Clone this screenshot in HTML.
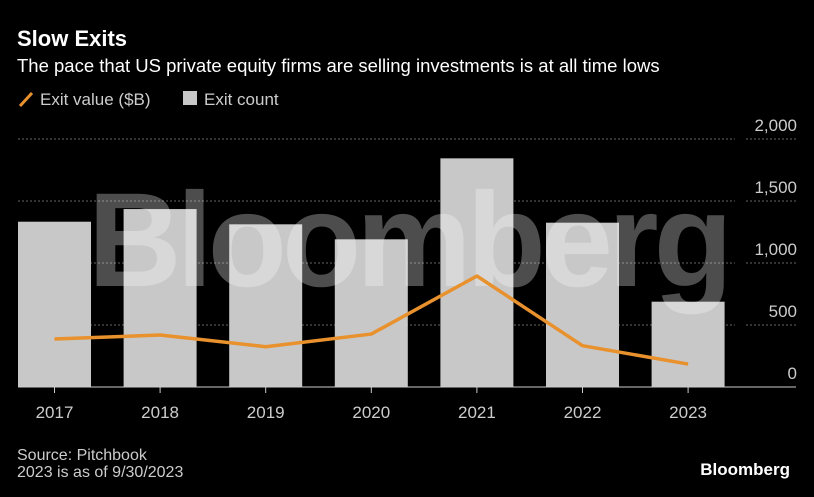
<!DOCTYPE html>
<html><head><meta charset="utf-8"><style>
body{margin:0;background:#000;width:814px;height:497px;overflow:hidden;font-family:"Liberation Sans",sans-serif;color:#fff}
svg{display:block}
</style></head><body>
<svg width="814" height="497">
<text x="17" y="46" font-size="22" font-weight="bold" fill="#fff">Slow Exits</text>
<text x="17" y="72" font-size="18.5" fill="#fff">The pace that US private equity firms are selling investments is at all time lows</text>
<g>
<line x1="20" y1="106" x2="32" y2="93" stroke="#e8912d" stroke-width="3"/>
<text x="40" y="105" font-size="17" fill="#ccc">Exit value ($B)</text>
<rect x="183" y="91" width="14" height="14" fill="#c8c8c8"/>
<text x="204" y="105" font-size="17" fill="#ccc">Exit count</text>
</g>
<g id="grid"></g>
<g id="bars"></g>
<text x="408" y="286" font-size="134" font-weight="bold" fill="rgba(255,255,255,0.3)" text-anchor="middle" letter-spacing="-5" textLength="640" lengthAdjust="spacingAndGlyphs">Bloomberg</text>
<g id="line"></g>
<g id="xaxis"></g>
<text x="17" y="460" font-size="16" fill="#ccc">Source: Pitchbook</text>
<text x="17" y="477" font-size="16" fill="#ccc">2023 is as of 9/30/2023</text>
<text x="790" y="475" font-size="17" font-weight="bold" fill="#fff" text-anchor="end">Bloomberg</text>
</svg>
<script>
const categories=["2017","2018","2019","2020","2021","2022","2023"];
const exitCount=[1333,1435,1312,1191,1844,1325,688];
const exitValue=[387,419,325,427,895,333,185];
const yTicks=[0,500,1000,1500,2000];
const yTickLabels=["0","500","1,000","1,500","2,000"];
const NS="http://www.w3.org/2000/svg";
const y=v=>387-v*0.124;
const x=i=>54.5+i*105.6;
function mk(tag,attrs,parent){const e=document.createElementNS(NS,tag);for(const k in attrs)e.setAttribute(k,attrs[k]);document.getElementById(parent).appendChild(e);return e;}
yTicks.forEach((t,i)=>{
 if(t>0){
  const g=mk('line',{x1:18,x2:735,y1:y(t),y2:y(t),stroke:'#666','stroke-dasharray':'2,2'},'grid');
  
  
  const g2=mk('line',{x1:746,x2:796,y1:y(t),y2:y(t),stroke:'#666','stroke-dasharray':'2,2'},'grid');
  
  
 }
 const tx=mk('text',{x:797,y:y(t)-8,'font-size':17,fill:'#ccc','text-anchor':'end'},'grid');
 tx.textContent=yTickLabels[i];
 
 
});
categories.forEach((c,i)=>{
 const b=mk('rect',{x:x(i)-36.5,width:73,y:y(exitCount[i]),height:387-y(exitCount[i]),fill:'#c8c8c8'},'bars');
 
 
 const tk=mk('line',{x1:x(i),x2:x(i),y1:387,y2:393,stroke:'#ccc'},'xaxis');
 
 
 const tl=mk('text',{x:x(i),y:418,'font-size':17,fill:'#ccc','text-anchor':'middle'},'xaxis');
 tl.textContent=c;
 
 
});
const ax=mk('line',{x1:18,x2:796,y1:387,y2:387,stroke:'#ccc'},'xaxis');


const pl=mk('polyline',{points:exitValue.map((v,i)=>x(i)+','+y(v)).join(' '),fill:'none',stroke:'#e8912d','stroke-width':3.5,'stroke-linejoin':'round'},'line');


</script>
</body></html>
